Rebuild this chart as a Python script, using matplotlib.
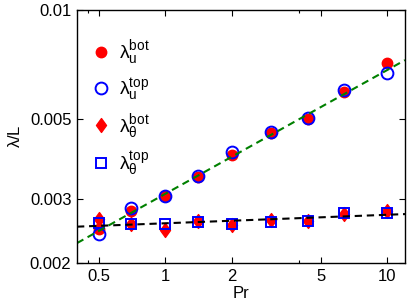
import matplotlib
matplotlib.use("Agg")
import matplotlib.pyplot as plt
from matplotlib.ticker import FixedLocator, FixedFormatter, NullLocator
from matplotlib.path import Path

plt.rcParams['font.family'] = ['Liberation Sans', 'DejaVu Sans']
plt.rcParams['mathtext.fontset'] = 'custom'
plt.rcParams['mathtext.rm'] = 'Liberation Sans'
plt.rcParams['mathtext.it'] = 'Liberation Sans'
plt.rcParams['mathtext.bf'] = 'Liberation Sans:bold'

# data
pr = [0.5, 0.7, 1.0, 1.4, 2.0, 3.0, 4.4, 6.4, 10.0]
lam_u_bot = [0.00248, 0.00278, 0.00306, 0.00345, 0.00397, 0.00458, 0.00500, 0.00593, 0.00714]
lam_u_top = [0.00240, 0.00284, 0.00307, 0.00348, 0.00405, 0.00460, 0.00503, 0.00601, 0.00670]
lam_t_bot = [0.00265, 0.00256, 0.00247, 0.00261, 0.00255, 0.00263, 0.00261, 0.00273, 0.00279]
lam_t_top = [0.00258, 0.00256, 0.00256, 0.00260, 0.00256, 0.00260, 0.00261, 0.00275, 0.00275]

fit_x = [0.4, 12.0]
fit_u = [0.00227, 0.00727]
fit_t = [0.00252, 0.00273]

xticks = [0.5, 1, 2, 5, 10]
xticklabels = ['0.5', '1', '2', '5', '10']
yticks = [0.002, 0.003, 0.005, 0.01]
yticklabels = ['0.002', '0.003', '0.005', '0.01']

diamond = Path([(0, 1), (0.72, 0), (0, -1), (-0.72, 0), (0, 1)],
               [Path.MOVETO, Path.LINETO, Path.LINETO, Path.LINETO, Path.CLOSEPOLY])

fig = plt.figure(figsize=(4.07, 3.05), dpi=100)
ax = fig.add_axes([77/407, 1-263/305, (405-77)/407, (263-10)/305])

red = '#ff0000'
blue = '#0000ff'
ax.plot(pr, lam_u_bot, 'o', ls='none', color=red, ms=7.5, mec=red,
        label=r'$\mathrm{\lambda}_\mathrm{u}^\mathrm{bot}$')
ax.plot(pr, lam_u_top, 'o', ls='none', mfc='none', mec=blue, mew=1.4, ms=8.5,
        label=r'$\mathrm{\lambda}_\mathrm{u}^\mathrm{top}$')
ax.plot(pr, lam_t_bot, marker=diamond, ls='none', color=red, ms=10, mec=red,
        label=r'$\mathrm{\lambda}_\mathrm{\theta}^\mathrm{bot}$')
ax.plot(pr, lam_t_top, 's', ls='none', mfc='none', mec=blue, mew=1.4, ms=7.5,
        label=r'$\mathrm{\lambda}_\mathrm{\theta}^\mathrm{top}$')

ax.plot(fit_x, fit_u, color='#008000', ls=(0, (3.5, 2.3)), lw=1.5)
ax.plot(fit_x, fit_t, color='black', ls=(0, (3.5, 2.3)), lw=1.5)

ax.set_xscale('log')
ax.set_yscale('log')
ax.set_xlim(0.4, 12)
ax.set_ylim(0.002, 0.01)
ax.xaxis.set_major_locator(FixedLocator(xticks))
ax.xaxis.set_major_formatter(FixedFormatter(xticklabels))
ax.xaxis.set_minor_locator(FixedLocator([0.45, 4]))
ax.xaxis.set_minor_formatter(FixedFormatter(['', '']))
ax.yaxis.set_major_locator(FixedLocator(yticks))
ax.yaxis.set_major_formatter(FixedFormatter(yticklabels))
ax.yaxis.set_minor_locator(NullLocator())
ax.tick_params(which='both', direction='in', top=True, right=True, labelsize=12, width=0.8)
ax.tick_params(which='major', length=4, pad=4)
ax.tick_params(which='minor', length=2.5)
for s in ax.spines.values():
    s.set_linewidth(1.0)

ax.set_xlabel('Pr', fontsize=12, labelpad=2)
ax.set_ylabel(r'$\mathrm{\lambda}$/L', fontsize=12, labelpad=5)

ax.legend(loc='upper left', frameon=False, fontsize=14, handlelength=1.0,
          handletextpad=0.4, labelspacing=0.45, borderaxespad=0.0,
          bbox_to_anchor=(0.02, 0.918), numpoints=1)

fig.savefig('out.png', dpi=100)
